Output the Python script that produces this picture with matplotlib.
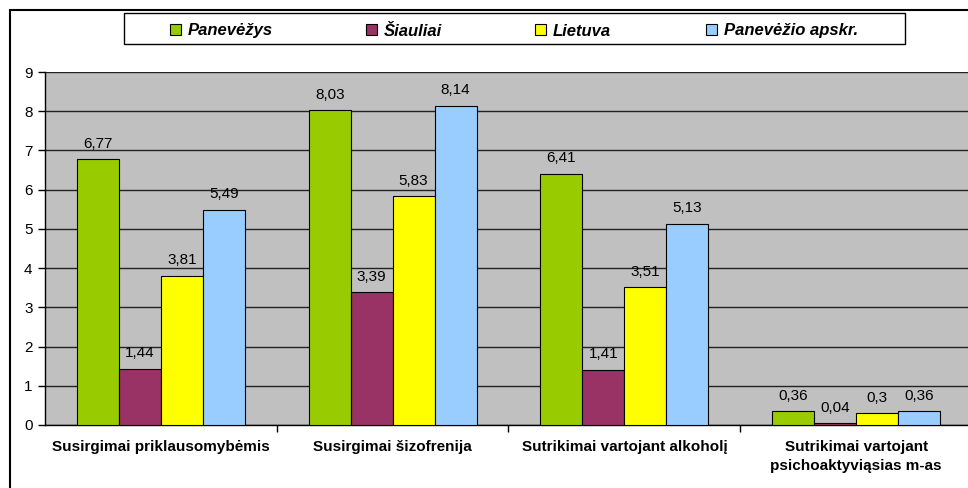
import numpy as np
import matplotlib.pyplot as plt
from matplotlib.patches import Rectangle

plt.rcParams['font.family'] = ['Liberation Sans', 'DejaVu Sans']

# Duomenys
kategorijos = ["Susirgimai priklausomybėmis", "Susirgimai šizofrenija",
               "Sutrikimai vartojant alkoholį",
               "Sutrikimai vartojant\npsichoaktyviąsias m-as"]
serijos = ["Panevėžys", "Šiauliai", "Lietuva", "Panevėžio apskr."]
panevezys = [6.77, 8.03, 6.41, 0.36]
siauliai = [1.44, 3.39, 1.41, 0.04]
lietuva = [3.81, 5.83, 3.51, 0.3]
apskritis = [5.49, 8.14, 5.13, 0.36]
reiksmes = [panevezys, siauliai, lietuva, apskritis]
etiketes = [["6,77", "8,03", "6,41", "0,36"],
            ["1,44", "3,39", "1,41", "0,04"],
            ["3,81", "5,83", "3,51", "0,3"],
            ["5,49", "8,14", "5,13", "0,36"]]
spalvos = ["#99CC00", "#993366", "#FFFF00", "#99CCFF"]

W, H = 968, 488
fig = plt.figure(figsize=(W / 100, H / 100), dpi=100)

# Ploto sritis (dešinė pusė nukirpta kaip originale)
ax = fig.add_axes([45 / W, (H - 425) / H, 927 / W, 353 / H])
ax.set_facecolor("#C0C0C0")

x = np.arange(len(kategorijos))
plotis = 0.181
for i, (vals, spalva) in enumerate(zip(reiksmes, spalvos)):
    pos = x + (i - 1.5) * plotis
    ax.bar(pos, vals, width=plotis, color=spalva, edgecolor="black",
           linewidth=0.8, zorder=3)
    for px, v, t in zip(pos, vals, etiketes[i]):
        ax.annotate(t, (px, v), xytext=(0, 6), textcoords="offset points",
                    ha="center", va="bottom", fontsize=11, zorder=4)

ax.set_xlim(-0.5, 3.5)
ax.set_ylim(0, 9)
ax.set_yticks(range(0, 10))
ax.yaxis.grid(True, color="#222222", linewidth=1.0, zorder=1)
ax.set_axisbelow(True)

ax.set_xticks(x)
ax.set_xticklabels(kategorijos, fontsize=11, fontweight="bold",
                   linespacing=1.45)
ax.set_xticks([0.5, 1.5, 2.5], minor=True)
ax.tick_params(axis="x", which="major", length=0, pad=11)
ax.tick_params(axis="x", which="minor", length=5, width=1, direction="out")
ax.tick_params(axis="y", length=5, width=1, labelsize=11, pad=4)

for s in ["top", "right"]:
    ax.spines[s].set_visible(False)
ax.spines["left"].set_linewidth(1)
ax.spines["bottom"].set_linewidth(1)

# Išorinis rėmelis
fig.patches.append(Rectangle((10 / W, -0.1), 1.2, 1.1 - 10 / H,
                             transform=fig.transFigure, fill=False,
                             edgecolor="black", linewidth=1.5))

# Legenda
fig.patches.append(Rectangle((124 / W, 1 - 44 / H), (905 - 124) / W, 31 / H,
                             transform=fig.transFigure, facecolor="white",
                             edgecolor="black", linewidth=1.0))
marker_x = [170, 366, 535, 706]
for mx, pav, spalva in zip(marker_x, serijos, spalvos):
    fig.patches.append(Rectangle((mx / W, 1 - 35 / H), 11 / W, 11 / H,
                                 transform=fig.transFigure, facecolor=spalva,
                                 edgecolor="black", linewidth=0.8))
    fig.text((mx + 18) / W, 1 - 35.5 / H, pav, fontsize=12, fontweight="bold",
             fontstyle="italic", va="baseline", ha="left")

fig.savefig("out.png", dpi=100)
